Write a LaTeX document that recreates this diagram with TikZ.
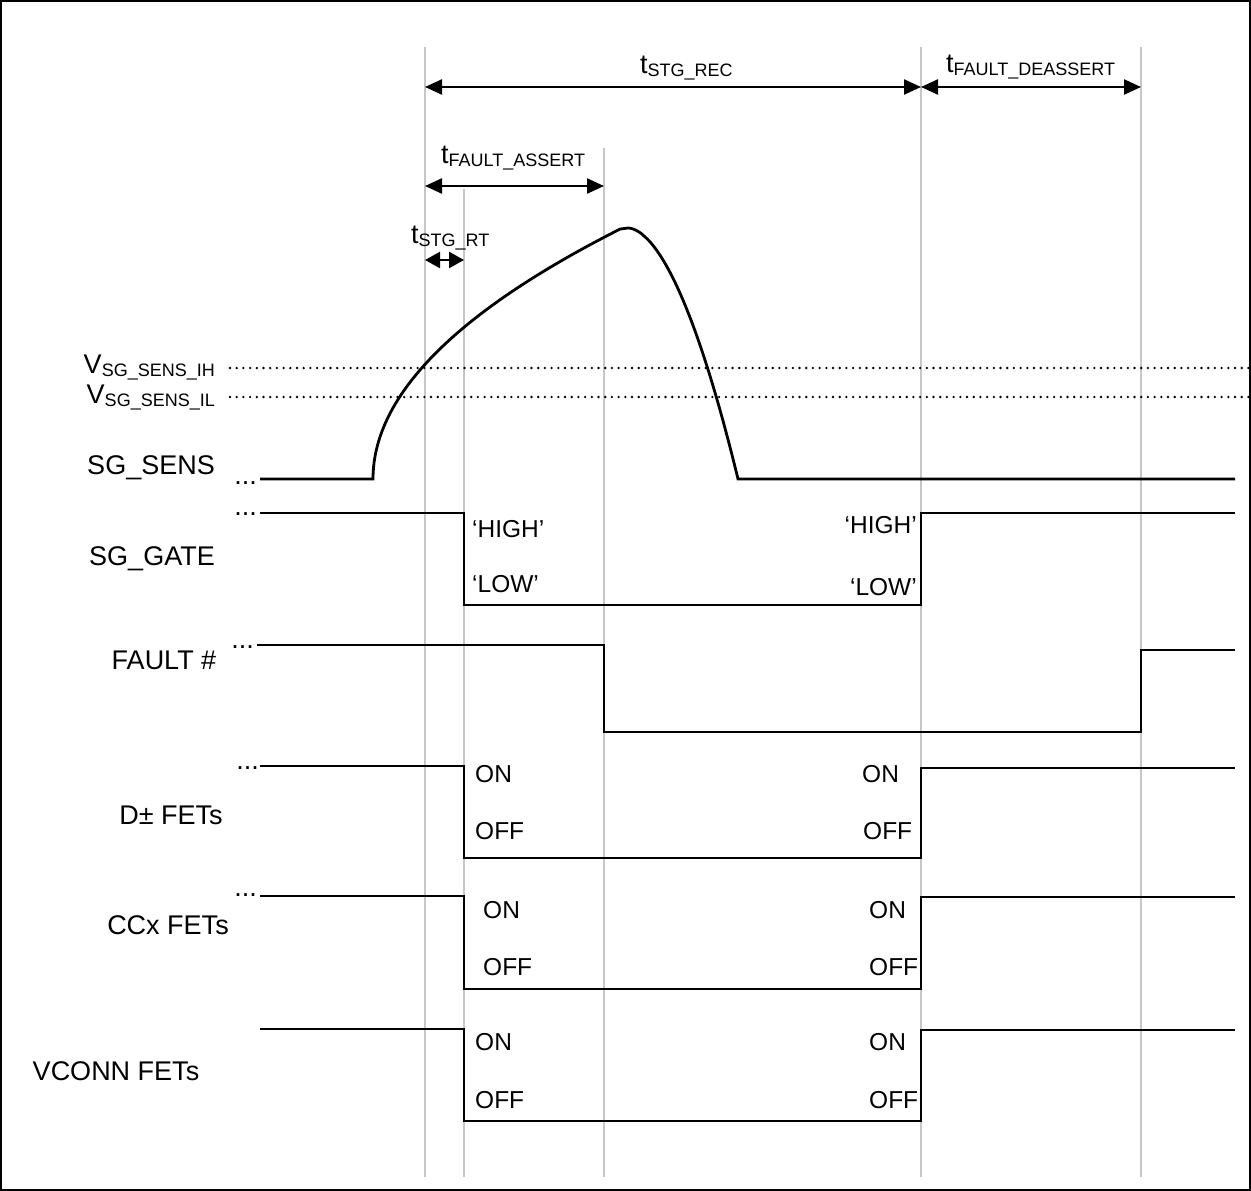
\documentclass[tikz,border=0pt]{standalone}
\usepackage{fontspec}
\setmainfont{Liberation Sans}
\usetikzlibrary{arrows.meta}
\newcommand\tsub[2]{#1{\fontsize{18}{18}\selectfont\raisebox{-3.5pt}{#2}}}
\begin{document}
\begin{tikzpicture}[x=1pt,y=-1pt,
  lbl/.style={font=\fontsize{27}{28}\selectfont, inner sep=0pt},
  st/.style={font=\fontsize{24.5}{28}\selectfont, inner sep=0pt},
  guide/.style={draw=black!22, line width=2.2pt},
  sig/.style={draw=black, line width=2.8pt, line join=miter},
  dimarrow/.style={line width=2.4pt, {Triangle[length=17pt,width=15pt]}-{Triangle[length=17pt,width=15pt]}},
  thr/.style={line width=2.6pt, line cap=round, dash pattern=on 0pt off 6.7pt},
]
\useasboundingbox (0,0) rectangle (1251,1191);
\draw[line width=2.4pt] (1.2,1.2) rectangle (1249.8,1189.8);

% guide lines
\coordinate (g1t) at (425,47);  \coordinate (g1b) at (425,1177);
\coordinate (g2t) at (464,189); \coordinate (g2b) at (464,1177);
\coordinate (g3t) at (604,148); \coordinate (g3b) at (604,1177);
\coordinate (g4t) at (921,47);  \coordinate (g4b) at (921,1177);
\coordinate (g5t) at (1141,47); \coordinate (g5b) at (1141,1177);
\draw[guide] (g1t) -- (g1b);
\draw[guide] (g2t) -- (g2b);
\draw[guide] (g3t) -- (g3b);
\draw[guide] (g4t) -- (g4b);
\draw[guide] (g5t) -- (g5b);

% dimension arrows
\coordinate (recA) at (425,87);  \coordinate (recB) at (921,87);
\coordinate (deaA) at (921,87);  \coordinate (deaB) at (1141,87);
\coordinate (asA) at (425,186);  \coordinate (asB) at (604,186);
\coordinate (rtA) at (425,260);  \coordinate (rtB) at (464,260);
\draw[dimarrow] (recA) -- (recB);
\draw[dimarrow] (deaA) -- (deaB);
\draw[dimarrow] (asA) -- (asB);
\draw[dimarrow, {Triangle[length=15pt,width=16pt]}-{Triangle[length=15pt,width=16pt]}] (rtA) -- (rtB);
\node[lbl, anchor=base west] (trec) at (640,73) {\tsub{t}{STG\_REC}};
\node[lbl, anchor=base west] (tdea) at (946,72) {\tsub{t}{FAULT\_DEASSERT}};
\node[lbl, anchor=base west] (tas) at (441,163) {\tsub{t}{FAULT\_ASSERT}};
\node[lbl, anchor=base west] (trt) at (411,243) {\tsub{t}{STG\_RT}};

% thresholds
\coordinate (ihA) at (230,368); \coordinate (ihB) at (1250,368);
\coordinate (ilA) at (230,397); \coordinate (ilB) at (1250,397);
\draw[thr] (ihA) -- (ihB);
\draw[thr] (ilA) -- (ilB);
\node[lbl, anchor=base east] (vih) at (215,373) {\tsub{V}{SG\_SENS\_IH}};
\node[lbl, anchor=base east] (vil) at (215,403) {\tsub{V}{SG\_SENS\_IL}};

% signal names
\node[lbl, anchor=base east] (nsens) at (215,474) {SG\_SENS};
\node[lbl, anchor=base] (ngate) at (152,565) {SG\_GATE};
\node[lbl, anchor=base] (nfault) at (164,669) {FAULT \#};
\node[lbl, anchor=base] (nd) at (171,824) {D± FETs};
\node[lbl, anchor=base] (ncc) at (168,934) {CCx FETs};
\node[lbl, anchor=base] (nvc) at (116,1080) {VCONN FETs};

% continuation dots
\node[lbl, anchor=base east] (d1) at (257,484) {...};
\node[lbl, anchor=base east] (d2) at (257,515) {...};
\node[lbl, anchor=base east] (d3) at (254,648) {...};
\node[lbl, anchor=base east] (d4) at (259,769) {...};
\node[lbl, anchor=base east] (d5) at (257,896) {...};

% SG_SENS waveform
\draw[sig] (260,479) -- (373,479)
  -- plot[domain=0:15.72, samples=60, variable=\q] ({373+\q*\q},{479-15.9*\q})
  -- (628,228)
  -- plot[domain=0.5:110, samples=60, variable=\q] ({628+\q},{228+251*pow(\q/110,1.8)})
  -- (1235,479);

% SG_GATE
\draw[sig] (260,513) -- (464,513) -- (464,605) -- (921,605) -- (921,513) -- (1235,513);
\node[st, anchor=base west] (gh1) at (472,537) {‘HIGH’};
\node[st, anchor=base west] (gl1) at (472,592) {‘LOW’};
\node[st, anchor=base east] (gh2) at (917,533) {‘HIGH’};
\node[st, anchor=base east] (gl2) at (917,595) {‘LOW’};

% FAULT#
\draw[sig] (257,645) -- (604,645) -- (604,732) -- (1141,732) -- (1141,650) -- (1235,650);

% D+- FETs
\draw[sig] (260,766) -- (464,766) -- (464,858) -- (921,858) -- (921,768) -- (1235,768);
\node[st, anchor=base west] (don1) at (475,782) {ON};
\node[st, anchor=base west] (doff1) at (475,839) {OFF};
\node[st, anchor=base west] (don2) at (862,782) {ON};
\node[st, anchor=base west] (doff2) at (863,839) {OFF};

% CCx FETs
\draw[sig] (260,896) -- (464,896) -- (464,989) -- (921,989) -- (921,897) -- (1235,897);
\node[st, anchor=base west] (con1) at (483,918) {ON};
\node[st, anchor=base west] (coff1) at (483,975) {OFF};
\node[st, anchor=base west] (con2) at (869,918) {ON};
\node[st, anchor=base west] (coff2) at (869,975) {OFF};

% VCONN FETs
\draw[sig] (260,1029) -- (464,1029) -- (464,1121) -- (921,1121) -- (921,1030) -- (1235,1030);
\node[st, anchor=base west] (von1) at (475,1050) {ON};
\node[st, anchor=base west] (voff1) at (475,1108) {OFF};
\node[st, anchor=base west] (von2) at (869,1050) {ON};
\node[st, anchor=base west] (voff2) at (869,1108) {OFF};
\end{tikzpicture}
\end{document}
